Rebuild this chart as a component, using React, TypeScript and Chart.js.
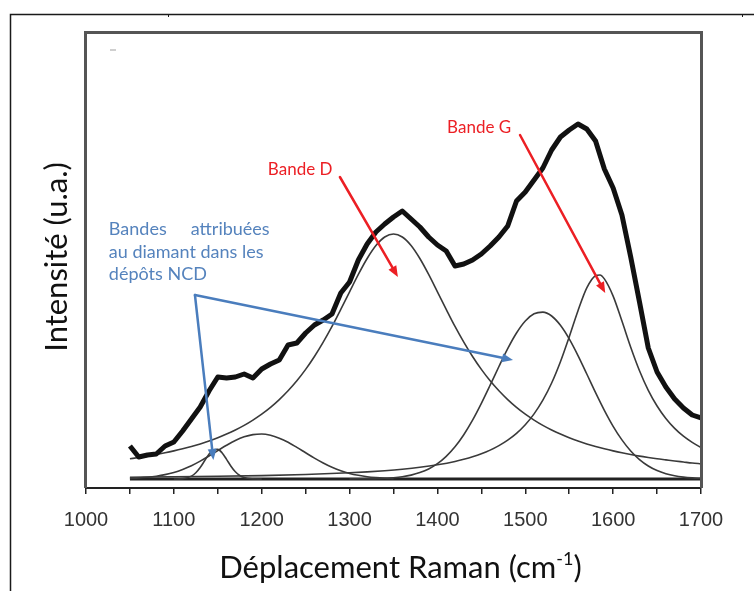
import { useEffect, useRef } from "react";
import { Chart, registerables } from "chart.js";

Chart.register(...registerables);

// ---------------- data (Raman shift in cm-1, intensity in a.u.) ----------------
const WAVENUMBER = [
  1050, 1060, 1070, 1080, 1090, 1100, 1110, 1120, 1130, 1140,
  1150, 1160, 1170, 1180, 1190, 1200, 1210, 1220, 1230, 1240,
  1250, 1260, 1270, 1280, 1290, 1300, 1310, 1320, 1330, 1340,
  1350, 1360, 1370, 1380, 1390, 1400, 1410, 1420, 1430, 1440,
  1450, 1460, 1470, 1480, 1490, 1500, 1510, 1520, 1530, 1540,
  1550, 1560, 1570, 1580, 1590, 1600, 1610, 1620, 1630, 1640,
  1650, 1660, 1670, 1680, 1690, 1700,
];

const SPECTRUM = [
  33, 22, 24, 25, 33, 37, 48, 60, 72, 88,
  102, 101, 102, 105, 101, 110, 115, 119, 134, 136,
  146, 154, 159, 165, 186, 197, 219, 235, 247, 255,
  262, 268, 260, 252, 242, 234, 228, 213, 215, 219,
  225, 233, 242, 253, 278, 287, 299, 311, 329, 342,
  349, 355, 350, 338, 310, 291, 264, 222, 177, 131,
  107, 92, 80, 71, 64, 61,
];

const BAND_D = [
  20.2, 21.5, 22.9, 24.5, 26.2, 28.1, 30.2, 32.5, 35.1, 38,
  41.2, 44.9, 49, 53.6, 58.9, 64.8, 71.6, 79.4, 88.2, 98.2,
  109.6, 122.5, 136.9, 152.6, 169.7, 187.2, 204.6, 220.5, 233.5, 242,
  245, 242, 233.5, 220.5, 204.6, 187.2, 169.7, 152.6, 136.9, 122.5,
  109.6, 98.2, 88.2, 79.4, 71.6, 64.8, 58.9, 53.6, 49, 44.9,
  41.2, 38, 35.1, 32.5, 30.2, 28.1, 26.2, 24.5, 22.9, 21.5,
  20.2, 19.1, 18, 17, 16, 15.2,
];

const BAND_1150_X = [1100, 1110, 1120, 1125, 1130, 1135, 1140, 1145, 1150, 1155, 1160, 1165, 1170, 1175, 1180, 1190, 1200];
const BAND_1150 = [0, 0.4, 2.9, 6.3, 11.5, 18.2, 24.8, 29.2, 29.6, 26, 19.6, 12.8, 7.2, 3.5, 1.4, 0.2, 0];

const BAND_1200_X = [
  1050, 1060, 1070, 1080, 1090, 1100, 1110, 1120, 1130, 1140,
  1150, 1160, 1170, 1180, 1190, 1200, 1210, 1220, 1230, 1240,
  1250, 1260, 1270, 1280, 1290, 1300, 1310, 1320, 1330, 1340, 1350,
];
const BAND_1200 = [
  0.6, 1.0, 1.7, 2.8, 4.4, 6.6, 9.6, 13.3, 17.9, 23,
  28.4, 33.7, 38.5, 42.2, 44.4, 45, 43.7, 40.8, 36.7, 31.6,
  26.2, 20.9, 16, 11.7, 8.3, 5.6, 3.7, 2.3, 1.4, 0.8, 0.4,
];

const BAND_1520_X = [
  1300, 1310, 1320, 1330, 1340, 1350, 1360, 1370, 1380, 1390,
  1400, 1410, 1420, 1430, 1440, 1450, 1460, 1470, 1480, 1490,
  1500, 1510, 1520, 1530, 1540, 1550, 1560, 1570, 1580, 1590,
  1600, 1610, 1620, 1630, 1640, 1650, 1660, 1670, 1680, 1690, 1700,
];
const BAND_1520 = [
  0.1, 0.2, 0.3, 0.4, 0.7, 1.3, 2.3, 3.9, 6.4, 10,
  15.3, 22.6, 32.2, 44.3, 58.8, 75.6, 93.8, 112.5, 130.4, 146,
  158, 165.2, 166.9, 163, 153.7, 140.1, 123.4, 105, 86.4, 68.7,
  52.7, 39.1, 28, 19.4, 13, 8.4, 5.3, 3.2, 1.9, 1.1, 0.6,
];

const BAND_G_X = [
  1050, 1100, 1150, 1200, 1250, 1300, 1320, 1340, 1360, 1380, 1400, 1420,
  1430, 1440, 1450, 1460, 1470, 1480, 1490, 1500, 1510, 1520, 1530, 1540,
  1550, 1560, 1570, 1580, 1585, 1590, 1600, 1610, 1620, 1630, 1640, 1650,
  1660, 1670, 1680, 1690, 1700,
];
const BAND_G = [
  1.8, 2.2, 2.7, 3.4, 4.5, 6.2, 7.1, 8.3, 9.8, 11.7, 14.2, 17.5,
  19.7, 22.2, 25.2, 28.9, 33.4, 38.9, 45.7, 54.3, 65.1, 78.8, 96, 117.3,
  142.1, 168.3, 191.1, 203.3, 204, 200.1, 182.9, 157.9, 131.8, 108.3, 88.7, 73,
  60.5, 50.6, 42.8, 36.6, 31.5,
];

const BASELINE_X = [1050, 1700];
const BASELINE = [0, 0];

const X_TICK_LABELS = ["1000", "1100", "1200", "1300", "1400", "1500", "1600", "1700"];

const X_TITLE = "Déplacement Raman (cm";
const X_TITLE_SUP = "-1";
const X_TITLE_END = ")";
const Y_TITLE = "Intensité (u.a.)";
const LABEL_D = "Bande D";
const LABEL_G = "Bande G";
const LABEL_DIAMOND_1 = ["Bandes", "attribuées"];
const LABEL_DIAMOND_2 = "au diamant dans les";
const LABEL_DIAMOND_3 = "dépôts NCD";

// annotation anchors, in data coordinates [cm-1, a.u.]
const ARROW_D = [[1289, 302], [1355, 202]];
const ARROW_G = [[1494, 344], [1591, 186]];
const TEXT_D = [1207, 304];
const TEXT_G = [1411, 346];
const BLUE_JUNCTION = [1124, 184];
const BLUE_TIPS = [[1486, 119], [1145, 19]];
const BLUE_TEXT_LEFT = 1026;
const BLUE_TEXT_RIGHT = 1209;
const BLUE_TEXT_BASELINES = [244, 221, 199];

const zip = (xs: number[], ys: number[]) => xs.map((x, i) => ({ x, y: ys[i] }));

const TITLE_FONT = "Lato, 'Open Sans', sans-serif";
const RED = "#ec1f24";
const BLUE = "#4a7dbd";
const BLUE_TEXT = "#5583bd";

function arrow(ctx: CanvasRenderingContext2D, x1: number, y1: number, x2: number, y2: number, color: string, lw: number, hl: number, hw: number) {
  const a = Math.atan2(y2 - y1, x2 - x1);
  const bx = x2 - hl * Math.cos(a);
  const by = y2 - hl * Math.sin(a);
  ctx.strokeStyle = color;
  ctx.lineWidth = lw;
  ctx.lineCap = "round";
  ctx.beginPath();
  ctx.moveTo(x1, y1);
  ctx.lineTo(bx, by);
  ctx.stroke();
  ctx.fillStyle = color;
  ctx.beginPath();
  ctx.moveTo(x2, y2);
  ctx.lineTo(bx + (hw / 2) * Math.sin(a), by - (hw / 2) * Math.cos(a));
  ctx.lineTo(bx - (hw / 2) * Math.sin(a), by + (hw / 2) * Math.cos(a));
  ctx.closePath();
  ctx.fill();
}

const decorPlugin = {
  id: "decor",
  afterDraw(chart: any) {
    const ctx: CanvasRenderingContext2D = chart.ctx;
    const { left, top, right, bottom } = chart.chartArea;
    const xs = chart.scales.x;
    const ys = chart.scales.y;
    const px = (v: number) => xs.getPixelForValue(v);
    const py = (v: number) => ys.getPixelForValue(v);
    ctx.save();

    // outer frame
    ctx.strokeStyle = "#1a1a1a";
    ctx.lineWidth = 1.5;
    ctx.beginPath();
    ctx.moveTo(10.5, 591);
    ctx.lineTo(10.5, 14.5);
    ctx.lineTo(754, 14.5);
    ctx.stroke();
    ctx.lineWidth = 1;
    ctx.beginPath();
    ctx.moveTo(168.5, 14);
    ctx.lineTo(168.5, 17);
    ctx.moveTo(742.5, 14);
    ctx.lineTo(742.5, 17);
    ctx.stroke();

    // plot box
    ctx.strokeStyle = "#555";
    ctx.lineWidth = 3;
    ctx.beginPath();
    ctx.moveTo(left - 0.5, bottom);
    ctx.lineTo(left - 0.5, top + 0.5);
    ctx.lineTo(right + 0.5, top + 0.5);
    ctx.lineTo(right + 0.5, bottom);
    ctx.stroke();
    ctx.fillStyle = "#cfcfcf";
    ctx.fillRect(left + 24, top + 17, 6, 2);

    // y title
    ctx.fillStyle = "#111";
    ctx.font = `31px ${TITLE_FONT}`;
    ctx.textAlign = "center";
    ctx.textBaseline = "middle";
    ctx.save();
    ctx.translate(57, 257);
    ctx.rotate(-Math.PI / 2);
    ctx.fillText(Y_TITLE, 0, 0);
    ctx.restore();

    // x title with superscript
    ctx.textBaseline = "alphabetic";
    ctx.textAlign = "left";
    const mainFont = `31px ${TITLE_FONT}`;
    const supFont = `18px ${TITLE_FONT}`;
    ctx.font = mainFont;
    const w1 = ctx.measureText(X_TITLE).width;
    const w3 = ctx.measureText(X_TITLE_END).width;
    ctx.font = supFont;
    const w2 = ctx.measureText(X_TITLE_SUP).width;
    const total = w1 + w2 + w3;
    let tx = (left + right) / 2 - total / 2 + 7;
    const tb = 578;
    ctx.font = mainFont;
    ctx.fillText(X_TITLE, tx, tb);
    tx += w1;
    ctx.font = supFont;
    ctx.fillText(X_TITLE_SUP, tx, tb - 13);
    tx += w2;
    ctx.font = mainFont;
    ctx.fillText(X_TITLE_END, tx, tb);

    // red labels + arrows
    ctx.font = `17px ${TITLE_FONT}`;
    ctx.fillStyle = RED;
    ctx.fillText(LABEL_D, px(TEXT_D[0]), py(TEXT_D[1]));
    ctx.fillText(LABEL_G, px(TEXT_G[0]), py(TEXT_G[1]));
    arrow(ctx, px(ARROW_D[0][0]), py(ARROW_D[0][1]), px(ARROW_D[1][0]), py(ARROW_D[1][1]), RED, 2.5, 11, 9);
    arrow(ctx, px(ARROW_G[0][0]), py(ARROW_G[0][1]), px(ARROW_G[1][0]), py(ARROW_G[1][1]), RED, 2.5, 11, 9);

    // blue labels + arrows
    ctx.font = `18px ${TITLE_FONT}`;
    ctx.fillStyle = BLUE_TEXT;
    const bl = px(BLUE_TEXT_LEFT);
    const br = px(BLUE_TEXT_RIGHT);
    ctx.textAlign = "left";
    ctx.fillText(LABEL_DIAMOND_1[0], bl, py(BLUE_TEXT_BASELINES[0]));
    ctx.textAlign = "right";
    ctx.fillText(LABEL_DIAMOND_1[1], br, py(BLUE_TEXT_BASELINES[0]));
    ctx.textAlign = "left";
    ctx.fillText(LABEL_DIAMOND_2, bl, py(BLUE_TEXT_BASELINES[1]));
    ctx.fillText(LABEL_DIAMOND_3, bl, py(BLUE_TEXT_BASELINES[2]));
    for (const t of BLUE_TIPS) {
      arrow(ctx, px(BLUE_JUNCTION[0]), py(BLUE_JUNCTION[1]), px(t[0]), py(t[1]), BLUE, 2.5, 11, 9);
    }
    ctx.restore();
  },
};

export default function App() {
  const ref = useRef<HTMLCanvasElement | null>(null);
  useEffect(() => {
    if (!ref.current) return;
    const comp = (data: any[]) => ({
      data,
      borderColor: "#3a3a3a",
      borderWidth: 1.6,
      pointRadius: 0,
      cubicInterpolationMode: "monotone" as const,
      fill: false,
    });
    const chart = new Chart(ref.current, {
      type: "line",
      data: {
        datasets: [
          {
            data: zip(WAVENUMBER, SPECTRUM),
            borderColor: "#111",
            borderWidth: 5,
            pointRadius: 0,
            tension: 0,
            borderJoinStyle: "round",
            fill: false,
          },
          comp(zip(BAND_1150_X, BAND_1150)),
          comp(zip(BAND_1200_X, BAND_1200)),
          comp(zip(WAVENUMBER, BAND_D)),
          comp(zip(BAND_1520_X, BAND_1520)),
          comp(zip(BAND_G_X, BAND_G)),
          {
            data: zip(BASELINE_X, BASELINE),
            borderColor: "#222",
            borderWidth: 3,
            pointRadius: 0,
            fill: false,
          },
        ],
      },
      options: {
        responsive: false,
        animation: false,
        devicePixelRatio: 1,
        layout: { padding: { left: 86, right: 53, top: 32, bottom: 0 } },
        plugins: { legend: { display: false }, tooltip: { enabled: false } },
        scales: {
          x: {
            type: "linear",
            min: 1000,
            max: 1700,
            afterFit: (s: any) => {
              s.height = 103;
            },
            ticks: {
              stepSize: 50,
              autoSkip: false,
              maxRotation: 0,
              padding: 14,
              color: "#333",
              font: { family: "'Liberation Sans', Arial, sans-serif", size: 20 },
              callback: (v: any) => {
                const i = X_TICK_LABELS.indexOf(String(v));
                return i >= 0 ? X_TICK_LABELS[i] : "";
              },
            },
            grid: { drawOnChartArea: false, drawTicks: true, tickLength: 6, color: "#222", lineWidth: 1.5 },
            border: { display: true, color: "#222", width: 2 },
          },
          y: { display: false, min: -9, max: 447 },
        },
      },
      plugins: [decorPlugin],
    });
    return () => chart.destroy();
  }, []);
  return (
    <div style={{ position: "absolute", left: 0, top: 0, width: 754, height: 591, background: "#fff" }}>
      <canvas ref={ref} width={754} height={591} style={{ display: "block" }} />
    </div>
  );
}
